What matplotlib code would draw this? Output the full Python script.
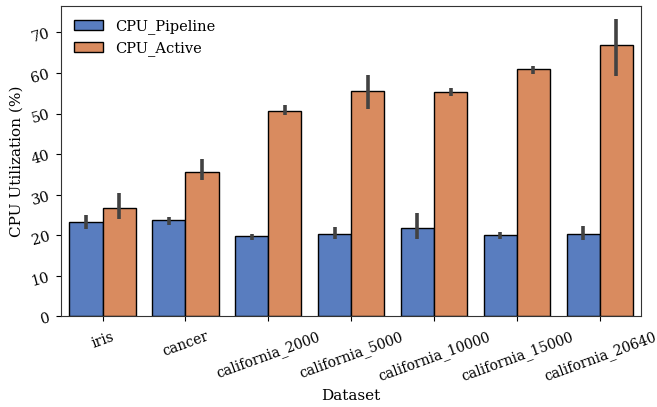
import matplotlib
matplotlib.use("Agg")
import matplotlib.pyplot as plt
import numpy as np
import seaborn as sns

datasets = ["iris", "cancer", "california_2000", "california_5000",
            "california_10000", "california_15000", "california_20640"]
series = ["CPU_Pipeline", "CPU_Active"]

pipeline_mean = [23.3, 23.7, 19.7, 20.3, 21.8, 20.0, 20.2]
pipeline_lo = [21.6, 22.4, 18.9, 19.0, 19.1, 19.0, 18.7]
pipeline_hi = [25.0, 24.5, 20.4, 22.1, 25.5, 20.9, 22.3]

active_mean = [26.8, 35.6, 50.6, 55.6, 55.4, 60.9, 67.0]
active_lo = [24.0, 33.6, 49.6, 51.0, 54.4, 59.8, 59.3]
active_hi = [30.3, 38.7, 52.0, 59.4, 56.4, 61.7, 73.3]

plt.rcParams["font.family"] = ["DejaVu Serif"]

pal = sns.color_palette("muted")
colors = [sns.desaturate(pal[0], 0.75), sns.desaturate(pal[1], 0.75)]

fig = plt.figure(figsize=(6.57, 4.07), dpi=100)
ax = fig.add_axes([0.093, 0.223, 0.883, 0.763])

x = np.arange(len(datasets))
w = 0.4
means = [pipeline_mean, active_mean]
los = [pipeline_lo, active_lo]
his = [pipeline_hi, active_hi]
for i, name in enumerate(series):
    xs = x - w / 2 + i * w
    ax.bar(xs, means[i], width=w, color=colors[i], edgecolor="black",
           linewidth=1.0, label=name, zorder=2)
    ax.vlines(xs, los[i], his[i], color=".26", linewidth=2.6, zorder=3)

ax.set_xlim(-0.5, len(datasets) - 0.5)
ax.set_ylim(0, 76.6)
ax.set_xticks(x)
ax.set_xticklabels(datasets, rotation=20, ha="center", fontsize=10)
ax.tick_params(axis="x", pad=6)
ax.tick_params(axis="y", labelrotation=15, labelsize=10.5)
ax.set_xlabel("Dataset", fontsize=11)
ax.set_ylabel("CPU Utilization (%)", fontsize=11)
ax.legend(loc="upper left", frameon=False, fontsize=10.5)
for s in ax.spines.values():
    s.set_color("#333333")

fig.savefig("out.png", dpi=100)
